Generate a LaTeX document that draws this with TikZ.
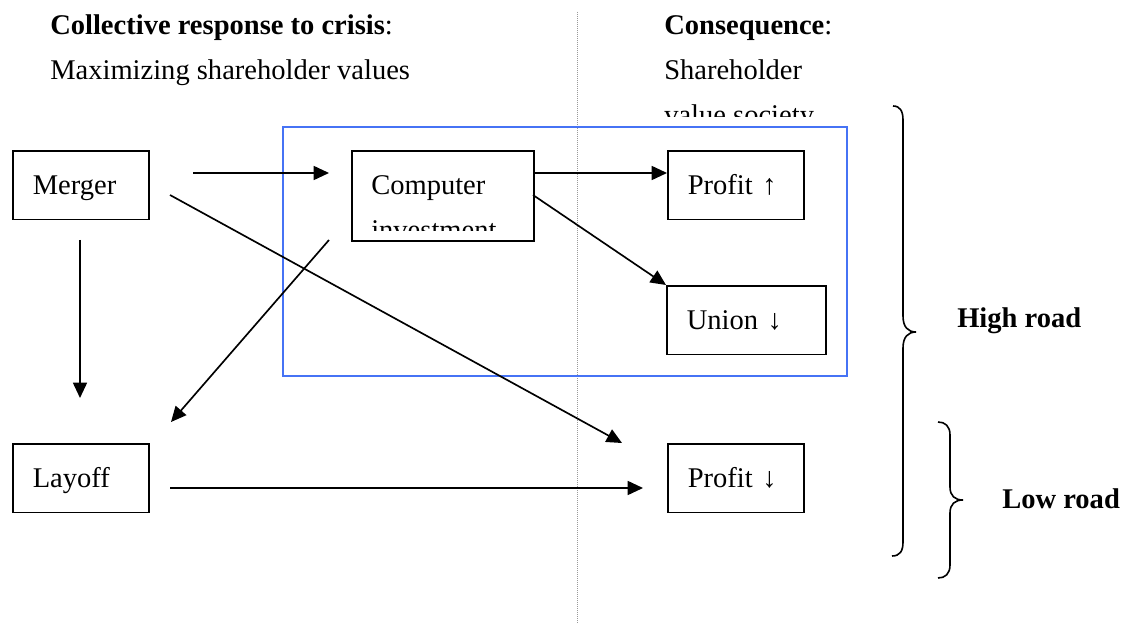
\documentclass[tikz,border=0pt]{standalone}
\usepackage{fontspec}
\setmainfont{Liberation Serif}
\usetikzlibrary{arrows.meta}
\definecolor{frameblue}{RGB}{70,115,245}
\begin{document}
\begin{tikzpicture}[x=0.75pt,y=-0.75pt,
  fnt/.style={font=\fontsize{21.4}{25}\selectfont},
  box/.style={fnt, draw, line width=1.2pt, rectangle, anchor=north west, inner ysep=0pt, inner xsep=15pt,
     align=left, text height=17.5pt, text depth=3.4pt, minimum height=51.5pt},
  txt/.style={fnt, anchor=base west, inner sep=0pt},
  arr/.style={line width=1.25pt, -{Triangle[length=11.5pt,width=10.5pt]}},
  brace/.style={line width=1.2pt},
]
\useasboundingbox (0,0) rectangle (1142,623);

% separator
\draw[gray!80, line width=0.75pt, dash pattern=on 0.75pt off 0.75pt] (577,12) -- (577,623);

% headings
\node[txt] (h1) at (50,35) {\textbf{Collective response to crisis}:};
\node[txt] (h2) at (50,80) {Maximizing shareholder values};
\node[txt] (h3) at (664,35) {\textbf{Consequence}:};
\node[txt] (h4) at (664,80) {Shareholder};
\begin{scope}
  \clip (600,85) rectangle (880,117);
  \node[txt] (h5) at (664,125) {value society};
\end{scope}

% blue frame
\draw[frameblue, line width=1.2pt] (283,127) rectangle (847,376);

% boxes
\node[box, text width=72pt] (merger) at (12,150) {Merger};
\node[box, text width=72pt] (layoff) at (12,443) {Layoff};
\node[box, text width=72pt] (profup) at (667,150) {Profit ↑};
\node[box, text width=72pt] (profdn) at (667,443) {Profit ↓};
\node[box, text width=89.25pt] (union) at (666,285) {Union ↓};
\node[draw, line width=1.2pt, rectangle, anchor=north west, inner sep=0pt,
      minimum width=136.5pt, minimum height=67.5pt] (comp) at (351,150) {};
\begin{scope}
  \clip (352,151) rectangle (532,231);
  \node[txt] (compa) at (371,195) {Computer};
  \node[txt] (compb) at (371,240) {investment};
\end{scope}

% arrow end points
\coordinate (m1) at (193,173);
\coordinate (c1) at (329,173);
\coordinate (m2) at (170,195);
\coordinate (p2) at (622,443);
\coordinate (m3) at (80,240);
\coordinate (l3) at (80,398);
\coordinate (c4) at (329,240);
\coordinate (l4) at (171,422);
\coordinate (l5) at (170,488);
\coordinate (p5) at (643,488);
\coordinate (c6) at (533,173);
\coordinate (c7) at (533,195);

\draw[arr] (m1) -- (c1);
\draw[arr] (m2) -- (p2);
\draw[arr] (m3) -- (l3);
\draw[arr] (c4) -- (l4);
\draw[arr] (l5) -- (p5);
\draw[arr] (c6) -- (profup.west |- c6);
\draw[arr] (c7) -- (union.north west);

% braces
\draw[brace] (893,106) .. controls (900,106) and (903,111) .. (903,120) -- (903,316)
  .. controls (903,327) and (908,332) .. (916,332)
  .. controls (908,332) and (903,337) .. (903,348) -- (903,542)
  .. controls (903,551) and (900,556) .. (892,556);
\draw[brace] (938,422) .. controls (945,422) and (950,426) .. (950,435) -- (950,487)
  .. controls (950,496) and (955,500) .. (963,500)
  .. controls (955,500) and (950,504) .. (950,513) -- (950,565)
  .. controls (950,574) and (945,578) .. (938,578);

\node[txt] (high) at (957,328) {\textbf{High road}};
\node[txt] (low) at (1002,508) {\textbf{Low road}};
\end{tikzpicture}
\end{document}
